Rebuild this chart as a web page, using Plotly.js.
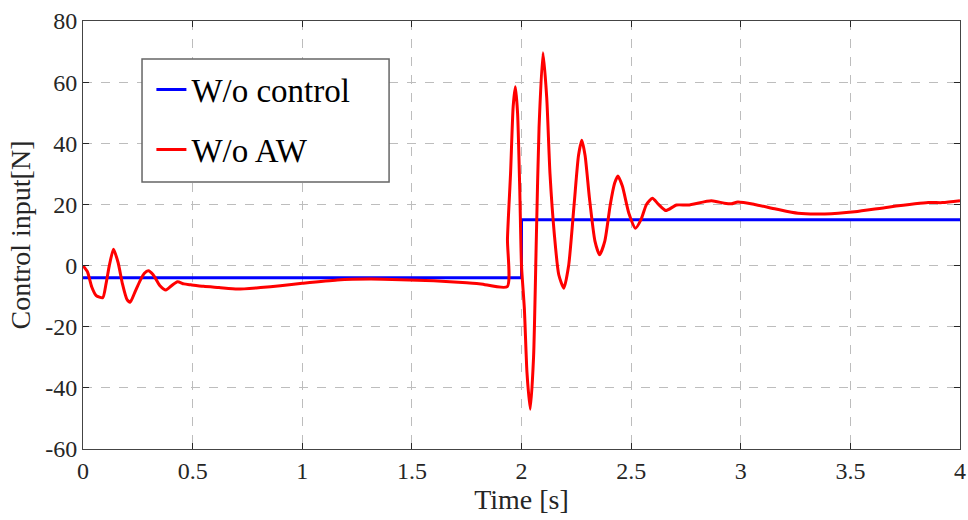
<!DOCTYPE html>
<html>
<head>
<meta charset="utf-8">
<script src="https://cdn.plot.ly/plotly-3.0.1.min.js"></script>
<style>html,body{margin:0;padding:0;background:#fff;}#chart{width:968px;height:520px;}</style>
</head>
<body>
<div id="chart"></div>
<script>
// Blue: W/o control
const tBlue = [0, 2, 2, 4];
const uBlue = [-4, -4, 15, 15];

// Red: W/o AW
const tRed = [0, 0.02, 0.04, 0.06, 0.09, 0.105, 0.12, 0.139, 0.16, 0.18, 0.2, 0.215, 0.235, 0.26, 0.28, 0.298, 0.32, 0.35, 0.378, 0.405, 0.431, 0.46, 0.492, 0.55, 0.62, 0.705, 0.81, 0.9, 1.0, 1.16, 1.31, 1.45, 1.6, 1.75, 1.815, 1.935, 1.936, 1.95, 1.962, 1.972, 1.982, 1.992, 2.0, 2.013, 2.025, 2.04, 2.055, 2.068, 2.08, 2.098, 2.115, 2.13, 2.15, 2.17, 2.193, 2.215, 2.24, 2.26, 2.275, 2.29, 2.31, 2.335, 2.356, 2.38, 2.405, 2.425, 2.44, 2.46, 2.49, 2.52, 2.545, 2.57, 2.597, 2.625, 2.658, 2.707, 2.76, 2.866, 2.925, 2.957, 2.987, 3.063, 3.16, 3.261, 3.383, 3.52, 3.672, 3.855, 3.92, 4.0];
const uRed = [0, -2, -7, -9.8, -10.5, -6, 0, 5.3, 1, -6, -11, -12, -9, -5, -2.5, -1.7, -3, -6.5, -8, -6.5, -5.3, -6, -6.3, -6.8, -7.2, -7.7, -7.2, -6.6, -5.8, -4.7, -4.4, -4.6, -5.0, -5.6, -6, -6.9, 8.7, 30, 52, 58.5, 50, 25, 0, -14, -35, -47, -30, 10, 45, 69.6, 55, 30, 10, -3, -7.4, 0, 20, 36, 41, 36, 22, 8, 3.5, 8, 20, 27, 29.3, 26, 17, 12.2, 15, 20, 22, 20, 18, 19.8, 19.8, 21.2, 20.4, 20.2, 20.8, 20, 18.5, 17.1, 16.9, 17.6, 19.1, 20.6, 20.6, 21.2];

const xTickVals = [0, 0.5, 1, 1.5, 2, 2.5, 3, 3.5, 4];
const xTickText = ["0", "0.5", "1", "1.5", "2", "2.5", "3", "3.5", "4"];
const yTickVals = [-60, -40, -20, 0, 20, 40, 60, 80];
const yTickText = ["-60", "-40", "-20", "0", "20", "40", "60", "80"];

const FONT = "Liberation Serif";

const traces = [
  {x: tBlue, y: uBlue, mode: 'lines', name: 'W/o control', legendgroup: 'a',
   line: {color: '#0000ff', width: 3}},
  {x: tRed, y: uRed, mode: 'lines', name: 'W/o AW', legendgroup: 'b',
   line: {color: '#ff0000', width: 3, shape: 'spline', smoothing: 0.6}}
];

function axis(extra) {
  return Object.assign({
    showline: true, linecolor: '#444', linewidth: 1, mirror: 'ticks',
    ticks: 'inside', ticklen: 6, tickcolor: '#262626', tickwidth: 1,
    showgrid: true, gridcolor: '#bdbdbd', griddash: 'dash', gridwidth: 1,
    zeroline: false,
    tickfont: {family: FONT, size: 24, color: '#262626'}
  }, extra);
}

const layout = {
  width: 968, height: 520,
  margin: {l: 83, r: 8, t: 21, b: 71},
  paper_bgcolor: '#fff', plot_bgcolor: '#fff',
  font: {family: FONT, color: '#000', size: 24},
  xaxis: axis({
    range: [0, 4], tickmode: 'array', tickvals: xTickVals, ticktext: xTickText,
    title: {text: 'Time [s]', standoff: 4, font: {family: FONT, size: 28, color: '#262626'}}
  }),
  yaxis: axis({
    range: [-60, 80], tickmode: 'array', tickvals: yTickVals, ticktext: yTickText,
    title: {text: 'Control input[N]', standoff: 6, font: {family: FONT, size: 28, color: '#262626'}}
  }),
  shapes: [{
    type: 'rect', xref: 'paper', yref: 'paper', layer: 'above',
    x0: 0.0673, x1: 0.349, y0: 0.624, y1: 0.911,
    fillcolor: '#fff', line: {color: '#666', width: 1.5}
  }],
  showlegend: true,
  legend: {
    x: 0.078, y: 0.905, xanchor: 'left', yanchor: 'top',
    bgcolor: 'rgba(0,0,0,0)', borderwidth: 0,
    font: {family: FONT, size: 33, color: '#000'},
    tracegroupgap: 14, itemwidth: 30
  }
};

Plotly.newPlot('chart', traces, layout, {displayModeBar: false, staticPlot: true});
</script>
</body>
</html>
